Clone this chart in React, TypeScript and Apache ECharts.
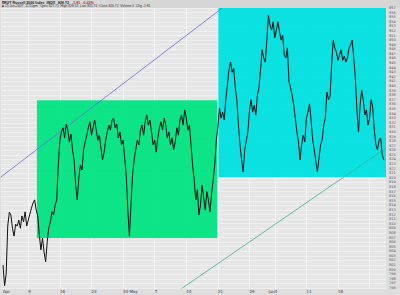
import React, { useEffect, useRef } from "react";
import * as echarts from "echarts";

// quarter-day samples of the index (trading day index = i * 0.25)
const priceValues = [
  801.0, 796.5, 799.0, 809.5, 812.5,
  811.9, 809.0, 807.3, 809.9, 809.5, 810.8, 809.0, 811.7, 810.4, 812.6, 809.5, 810.8, 812.1, 813.4, 814.5, 815.2, 813.0,
  811.7, 807.5, 804.3, 806.9, 803.8, 801.7, 806.1, 809.2, 810.4, 812.6, 811.9, 814.1, 815.2, 822.8, 828.2,
  830.0, 830.9, 828.7, 831.7, 830.4, 827.8, 829.5, 826.1, 823.9, 818.4, 815.2, 820.0, 822.8, 821.7, 826.1, 827.8, 829.3, 830.9, 832.2, 829.3, 830.9, 832.6, 830.4, 828.2, 829.3, 826.5, 823.9, 825.6, 828.2, 830.0, 831.5, 830.4, 832.6, 833.0, 830.9, 831.7, 828.7, 830.0, 827.2, 828.2, 824.3, 820.6, 813.0, 807.3,
  814.1, 820.6, 823.9, 826.1, 828.2, 827.2, 830.4, 831.5, 829.3, 832.2, 833.7, 831.5, 832.6, 830.0, 827.2, 828.2, 825.6, 828.7, 830.9, 832.2, 830.4, 833.0, 831.5, 828.7, 830.0, 827.2, 828.7, 826.1, 827.8, 830.9, 829.3, 832.6, 833.7, 831.5, 834.8, 833.0, 830.4, 831.5, 827.2, 822.8, 819.5, 815.2, 817.4, 811.9, 814.1, 818.4, 815.6, 813.0, 817.0, 815.2, 812.6, 816.5, 819.5, 822.8, 828.2,
  831.1, 835.2, 833.0, 834.3, 832.6, 837.0, 840.2, 843.5, 845.2, 843.0, 843.9, 839.6, 837.0, 831.5, 827.2, 823.9, 821.3, 826.1, 828.2, 830.0, 834.8, 837.0, 834.3, 835.8, 833.7, 838.0, 839.6, 843.5, 847.9, 846.1, 845.2, 850.0, 855.4, 853.3, 852.2, 854.0, 850.5, 852.2, 854.0, 851.8, 850.0, 851.1, 846.8, 846.1, 848.3, 840.9, 839.6, 838.0, 835.8, 833.0, 830.0, 827.8, 823.9, 827.2, 829.3, 827.8, 833.0, 834.3, 836.1, 832.6, 828.2, 826.1, 823.5, 821.3, 824.3, 827.2, 828.2, 831.5, 833.0, 838.7, 837.0, 837.8, 844.6, 850.0, 848.3, 847.4, 845.6, 846.8, 847.9, 845.6, 846.5, 845.2, 846.1, 848.3, 848.9, 850.0, 846.1, 841.7, 834.8, 830.0, 835.8, 839.1, 837.0, 833.7, 834.8, 831.5, 833.0, 837.0, 835.3, 830.4, 827.2, 826.1, 828.2, 828.7, 825.0, 823.9,
];
const STEP_DAYS = 0.25;

// x-axis labels (trading-day index -> label)
const labelDays = [0, 4, 9, 14, 19, 20, 24, 29, 34, 39, 42, 43, 48, 53, 58];
const labelTexts = ["Apr", "9", "16", "23", "30", "May", "7", "14", "21", "29", "Jun", "4", "11", "18", "25"];
const weekLineDays = [4, 9, 14, 19, 24, 29, 34, 39, 43, 48, 53, 58];

// boxes: [dayStart, dayEnd, priceLow, priceHigh]
const greenBox = [5.36, 33.9, 806.9, 836.9];
const cyanBox = [34.07, 60.6, 820.2, 857];

// trend lines: [[day, price], [day, price]]
const upperTrend = [[-0.32, 820.2], [34.7, 857]];
const lowerTrend = [[26.8, 794.5], [60.6, 826.5]];

const Y_MIN = 796;
const Y_MAX = 857;
const X_MIN = -0.32;
const X_MAX = 60.6;

export default function App() {
  const ref = useRef<HTMLDivElement>(null);
  useEffect(() => {
    if (!ref.current) return;
    const chart = echarts.init(ref.current, null, { renderer: "svg" });
    const priceData = priceValues.map((v, i) => [i * STEP_DAYS, v]);
    const labelMap: Record<number, string> = {};
    labelDays.forEach((d, i) => (labelMap[d] = labelTexts[i]));
    chart.setOption({
      animation: false,
      backgroundColor: "#dedede",
      textStyle: { fontFamily: "DejaVu Sans" },
      grid: {
        left: 0,
        right: 14,
        top: 8,
        bottom: 7,
        show: true,
        backgroundColor: "#e6e6e6",
        borderWidth: 0,
      },
      graphic: [
        { type: "rect", shape: { x: 0, y: 0, width: 400, height: 8 }, style: { fill: "#d6d6d6" }, silent: true },
        {
          type: "text",
          x: 2,
          y: 0.5,
          style: { text: "$RUT Russell 2000 Index  INDX   826.72", fontSize: 3.6, fill: "#222", fontWeight: "bold" },
        },
        {
          type: "text",
          x: 72,
          y: 0.5,
          style: { text: "-1.81  -0.22%", fontSize: 3.6, fill: "#e01010", fontWeight: "bold" },
        },
        {
          type: "text",
          x: 2,
          y: 4.3,
          style: {
            text: "■ 15-Jun-2007  11:50pm  Open 827.75  High 828.13  Low 825.74  Close 826.72  Volume 0  Chg -1.81",
            fontSize: 3.3,
            fill: "#333",
          },
        },
      ],
      xAxis: {
        type: "value",
        min: X_MIN,
        max: X_MAX,
        axisLine: { show: false },
        axisTick: { show: false },
        splitLine: { show: false },
        axisLabel: {
          customValues: labelDays,
          formatter: (v: number) => labelMap[Math.round(v)] ?? "",
          fontSize: 4,
          color: "#333",
          align: "left",
          margin: 1.5,
          showMinLabel: true,
          showMaxLabel: false,
        },
      },
      yAxis: {
        type: "value",
        position: "right",
        min: Y_MIN,
        max: Y_MAX,
        interval: 1,
        axisLine: { show: false },
        axisTick: { show: false },
        splitLine: { show: true, lineStyle: { color: "#f3f3f3", width: 0.7 } },
        axisLabel: { fontSize: 3.5, color: "#555", margin: 3 },
      },
      series: [
        {
          type: "line",
          name: "weeks",
          data: [],
          z: 1,
          silent: true,
          markLine: {
            silent: true,
            z: 1,
            symbol: "none",
            label: { show: false },
            lineStyle: { color: "#f6f6f6", width: 1, type: "solid" },
            data: weekLineDays.map((d) => ({ xAxis: d })),
          },
        },
        {
          type: "line",
          name: "boxes",
          data: [],
          z: 2,
          silent: true,
          markArea: {
            silent: true,
            z: 2,
            data: [
              [
                { xAxis: greenBox[0], yAxis: greenBox[2], itemStyle: { color: "rgba(0,228,130,0.95)" } },
                { xAxis: greenBox[1], yAxis: greenBox[3] },
              ],
              [
                { xAxis: cyanBox[0], yAxis: cyanBox[2], itemStyle: { color: "rgba(0,224,226,0.95)" } },
                { xAxis: cyanBox[1], yAxis: cyanBox[3] },
              ],
            ],
          },
        },
        {
          type: "line",
          name: "upper",
          data: upperTrend,
          showSymbol: false,
          z: 3,
          lineStyle: { color: "#6a6ae6", width: 0.8 },
        },
        {
          type: "line",
          name: "lower",
          data: lowerTrend,
          showSymbol: false,
          z: 3,
          lineStyle: { color: "#3aae94", width: 0.8 },
        },
        {
          type: "line",
          name: "$RUT",
          data: priceData,
          showSymbol: false,
          z: 5,
          lineStyle: { color: "#111", width: 1 },
        },
      ],
    });
    return () => chart.dispose();
  }, []);
  return (
    <div
      ref={ref}
      style={{ position: "fixed", left: 0, top: 0, width: 400, height: 295 }}
    />
  );
}
